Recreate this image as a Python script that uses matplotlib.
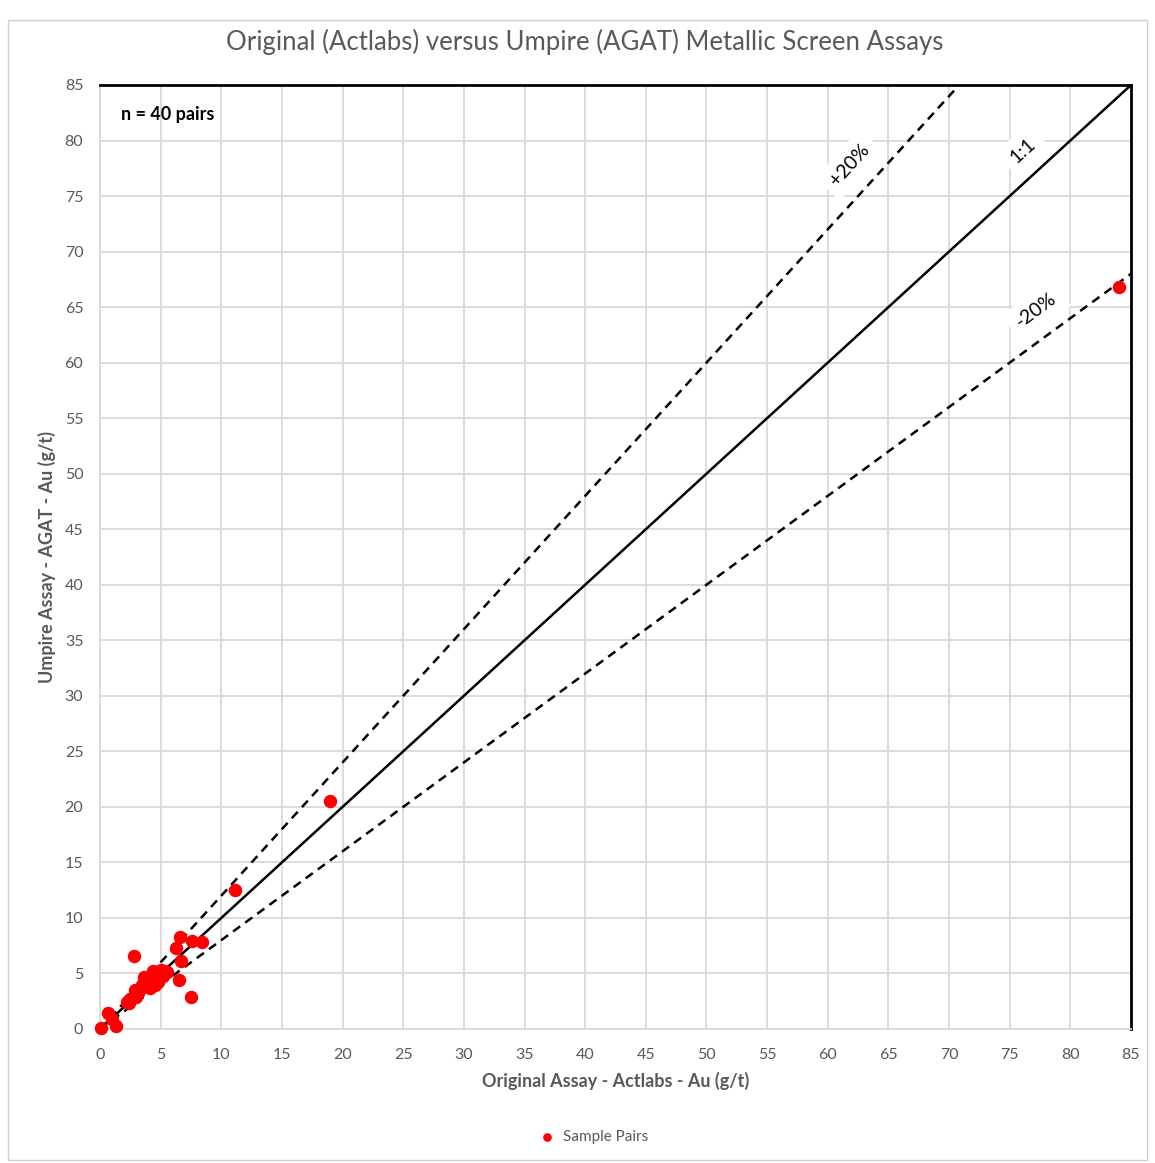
import numpy as np
import matplotlib
matplotlib.use('Agg')
import matplotlib.pyplot as plt
from matplotlib.patches import Rectangle

plt.rcParams['font.family'] = ['Lato', 'DejaVu Sans']

# sample pairs: original (Actlabs) vs umpire (AGAT), Au g/t
original = [0.05, 0.7, 1.0, 1.35, 2.2, 2.5, 2.8, 2.9, 3.1, 3.3,
            3.5, 3.6, 3.8, 4.0, 4.1, 4.3, 4.4, 4.6, 4.7, 4.8,
            5.0, 5.2, 5.5, 2.8, 6.3, 6.6, 6.7, 6.5, 7.5, 7.6,
            8.4, 11.1, 19.0, 84.0, 3.0, 3.9, 4.5, 5.3, 2.4, 4.9]
umpire = [0.05, 1.4, 0.9, 0.25, 2.4, 2.7, 3.0, 3.5, 3.2, 3.6,
          4.0, 4.7, 3.9, 4.2, 3.7, 4.6, 5.2, 4.3, 4.9, 4.2,
          5.3, 4.8, 5.1, 6.6, 7.3, 8.3, 6.1, 4.4, 2.9, 7.9,
          7.8, 12.5, 20.5, 66.8, 2.9, 4.4, 4.0, 5.2, 2.3, 5.0]

ref_x = [0, 85]
ratios = {'1:1': 1.0, '+20%': 1.2, '-20%': 0.8}

W, H = 1155, 1163
fig = plt.figure(figsize=(W/100, H/100), dpi=100)
fig.patches.append(Rectangle((8/W, 1-1160/H), 1-16/W, 1140/H, transform=fig.transFigure,
                             fill=False, edgecolor='#d0d0d0', lw=1))
ax = fig.add_axes([100/W, 1-1029/H, 1031/W, 944/H])

ax.set_xlim(0, 85)
ax.set_ylim(0, 85)
ax.set_xticks(np.arange(0, 86, 5))
ax.set_yticks(np.arange(0, 86, 5))
ax.grid(True, color='#d9d9d9', lw=1.3)
ax.set_axisbelow(True)
ax.tick_params(length=0, colors='#595959', labelsize=11.5)
ax.tick_params(axis='x', pad=14)
ax.tick_params(axis='y', pad=12)

for s in ['left', 'bottom']:
    ax.spines[s].set_color('#d9d9d9')
    ax.spines[s].set_linewidth(1.3)
for s in ['top', 'right']:
    ax.spines[s].set_color('black')
    ax.spines[s].set_linewidth(2)

# reference lines
for name, r in ratios.items():
    ls = '-' if r == 1.0 else (0, (3.5, 2.5))
    ax.plot(ref_x, [r * v for v in ref_x], color='black', lw=1.8, ls=ls, zorder=3)

ax.scatter(original, umpire, s=75, color='#ff0000', zorder=4, label='Sample Pairs', clip_on=False)

# line labels
sx = 1031 / 85
sy = 944 / 85
labels = [('+20%', 61.8, 77.8, 1.2), ('1:1', 76.1, 79.1, 1.0), ('-20%', 77.2, 64.7, 0.8)]
for txt, lx, ly, r in labels:
    ang = np.degrees(np.arctan(r * sy / sx))
    ax.text(lx, ly, txt, rotation=ang, ha='center', va='center', fontsize=14,
            color='black', bbox=dict(facecolor='white', edgecolor='none', pad=6), zorder=5)

ax.text(1.7, 82.3, 'n = 40 pairs', fontsize=13, fontweight='bold', ha='left', va='center')

ax.set_xlabel('Original Assay - Actlabs - Au (g/t)', fontsize=13, fontweight='bold',
              color='#595959', labelpad=7)
ax.set_ylabel('Umpire Assay - AGAT - Au (g/t)', fontsize=13, fontweight='bold',
              color='#595959', labelpad=6)
fig.text(585/W, 1-42/H, 'Original (Actlabs) versus Umpire (AGAT) Metallic Screen Assays',
         ha='center', va='center', fontsize=18.5, color='#595959')

fig.legend(loc='center', bbox_to_anchor=(590/W, 1-1137/H), frameon=False, fontsize=11,
           handletextpad=0.1, markerscale=0.6, labelcolor='#595959')

fig.savefig('out.png', dpi=100)
